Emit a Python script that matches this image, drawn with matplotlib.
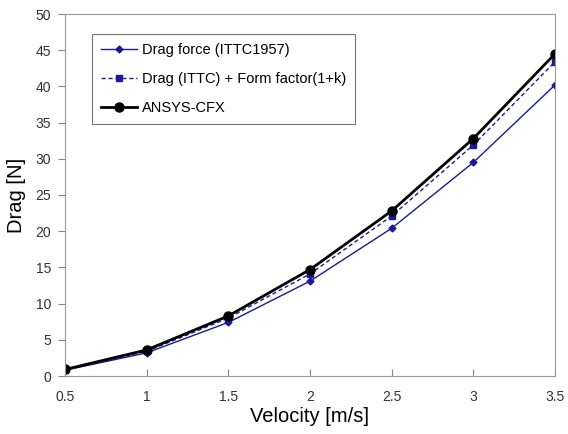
import numpy as np
import matplotlib.pyplot as plt

plt.rcParams['font.family'] = ['Liberation Sans', 'DejaVu Sans']

# velocity [m/s] and drag [N]
velocity = [0.5, 1.0, 1.5, 2.0, 2.5, 3.0, 3.5]
drag_ittc = [0.8, 3.2, 7.4, 13.1, 20.4, 29.5, 40.2]
drag_form = [0.85, 3.4, 8.0, 14.1, 22.1, 31.9, 43.4]
drag_cfx = [0.9, 3.6, 8.3, 14.7, 22.8, 32.8, 44.5]

fig = plt.figure(figsize=(5.68, 4.34), dpi=100)
ax = fig.add_axes([65/568, 58/434, 490/568, 362/434])

ax.plot(velocity, drag_ittc, color='#1a1a96', lw=1.0, marker='D', ms=3.5,
        label='Drag force (ITTC1957)')
ax.plot(velocity, drag_form, color='#1a1a96', lw=1.0, ls=(0, (3, 2)), marker='s', ms=5,
        label='Drag (ITTC) + Form factor(1+k)')
ax.plot(velocity, drag_cfx, color='black', lw=2.0, marker='o', ms=6.5,
        label='ANSYS-CFX')

ax.set_xlim(0.5, 3.5)
ax.set_ylim(0, 50)
ax.set_xticks(np.arange(0.5, 3.6, 0.5))
ax.set_xticklabels(['0.5', '1', '1.5', '2', '2.5', '3', '3.5'])
ax.set_yticks(range(0, 51, 5))
ax.tick_params(axis='x', direction='in', length=5, labelsize=10, colors='#333333', pad=10, color='#888888')
ax.tick_params(axis='y', direction='out', length=5, labelsize=10, colors='#333333', pad=5, color='#888888')
for s in ax.spines.values():
    s.set_color('#999999')
ax.set_xlabel('Velocity [m/s]', fontsize=14.5, labelpad=2)
ax.set_ylabel('Drag [N]', fontsize=14.5, labelpad=7)

leg = ax.legend(loc='upper left', bbox_to_anchor=(0.055, 0.945), fontsize=10.5,
                frameon=True, fancybox=False, borderpad=0.6, labelspacing=1.05,
                handlelength=2.5, handletextpad=0.3, borderaxespad=0)
leg.get_frame().set_edgecolor('#555555')
leg.get_frame().set_linewidth(0.8)

plt.savefig('out.png', dpi=100)
